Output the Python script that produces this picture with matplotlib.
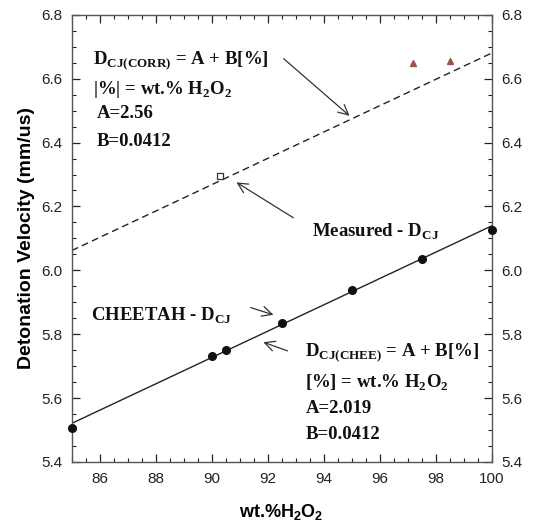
import matplotlib
matplotlib.use("Agg")
import matplotlib.pyplot as plt
from matplotlib.ticker import MultipleLocator

# Data
cheetah_x = [85, 90, 90.5, 92.5, 95, 97.5, 100]
cheetah_y = [5.505, 5.732, 5.751, 5.836, 5.937, 6.035, 6.126]
measured_sq_x = [90.3]
measured_sq_y = [6.296]
measured_tri_x = [97.2, 98.5]
measured_tri_y = [6.648, 6.656]
fit_x = [85, 100]
A_corr, B_corr = 2.56, 0.0412
A_chee, B_chee = 2.019, 0.0412
x_ticks = [86, 88, 90, 92, 94, 96, 98, 100]
y_ticks = [5.4, 5.6, 5.8, 6.0, 6.2, 6.4, 6.6, 6.8]

plt.rcParams['font.family'] = ['Liberation Sans', 'DejaVu Sans']
fig = plt.figure(figsize=(5.48, 5.28), dpi=100)
ax = fig.add_axes([0.131, 0.125, 0.766, 0.847])

corr_y = [A_corr + B_corr * x for x in fit_x]
chee_y = [A_chee + B_chee * x for x in fit_x]
ax.plot(fit_x, corr_y, color='#222222', lw=1.0, ls=(0, (5, 3)))
ax.plot(fit_x, chee_y, color='#222222', lw=1.0)
ax.plot(cheetah_x, cheetah_y, 'o', color='#111111', ms=5.5, clip_on=False, zorder=5)
ax.plot(measured_sq_x, measured_sq_y, 's', mfc='white', mec='#333333', ms=4.5, mew=0.9, zorder=5)
ax.plot(measured_tri_x, measured_tri_y, '^', color='#9a5550', ms=5, zorder=5)

ax.set_xlim(85, 100)
ax.set_ylim(5.4, 6.8)
ax.set_xticks(x_ticks)
ax.set_yticks(y_ticks)
ax.set_xticklabels([str(t) for t in x_ticks])
ax.set_yticklabels(['%.1f' % t for t in y_ticks])
ax.xaxis.set_minor_locator(MultipleLocator(0.5))
ax.yaxis.set_minor_locator(MultipleLocator(0.05))
ax.tick_params(which='both', direction='in', top=True, right=True, labelright=True,
               labelsize=11, colors='#222222')
ax.tick_params(which='major', length=6, width=0.9, pad=7)
ax.tick_params(which='minor', length=3, width=0.8)
for s in ax.spines.values():
    s.set_color('#555555')
    s.set_linewidth(1.0)

ax.set_xlabel('wt.%H$_\\mathregular{2}$O$_\\mathregular{2}$', fontsize=13, fontweight='bold', labelpad=12)
ax.set_ylabel('Detonation Velocity (mm/us)', fontsize=14, fontweight='bold', labelpad=4)

serif = dict(family='Liberation Serif', fontweight='bold', fontsize=13.5, color='#111111')
arrow = dict(arrowstyle='->', color='#333333', lw=0.9, mutation_scale=18)

ax.text(85.75, 6.655, 'D$_{\\mathregular{CJ(CORR)}}$ = A + B[%]', va='center', ha='left', **serif)
ax.text(85.75, 6.565, '|%| = wt.% H$_\\mathregular{2}$O$_\\mathregular{2}$', va='center', ha='left', **serif)
ax.text(85.9, 6.490, 'A=2.56', va='center', ha='left', **serif)
ax.text(85.9, 6.402, 'B=0.0412', va='center', ha='left', **serif)
ax.annotate('', xy=(95.0, 6.478), xytext=(92.5, 6.668), arrowprops=arrow)

ax.text(93.6, 6.121, 'Measured - D$_{\\mathregular{CJ}}$', va='center', ha='left', **serif)
ax.annotate('', xy=(90.8, 6.280), xytext=(93.0, 6.160), arrowprops=arrow)

ax.text(85.7, 5.856, 'CHEETAH - D$_{\\mathregular{CJ}}$', va='center', ha='left', **serif)
ax.annotate('', xy=(92.3, 5.858), xytext=(91.3, 5.886), arrowprops=arrow)

ax.text(93.35, 5.741, 'D$_{\\mathregular{CJ(CHEE)}}$ = A + B[%]', va='center', ha='left', **serif)
ax.text(93.35, 5.648, '[%] = wt.% H$_\\mathregular{2}$O$_\\mathregular{2}$', va='center', ha='left', **serif)
ax.text(93.35, 5.569, 'A=2.019', va='center', ha='left', **serif)
ax.text(93.35, 5.486, 'B=0.0412', va='center', ha='left', **serif)
ax.annotate('', xy=(91.75, 5.778), xytext=(92.8, 5.745), arrowprops=arrow)

fig.savefig('out.png', dpi=100)
